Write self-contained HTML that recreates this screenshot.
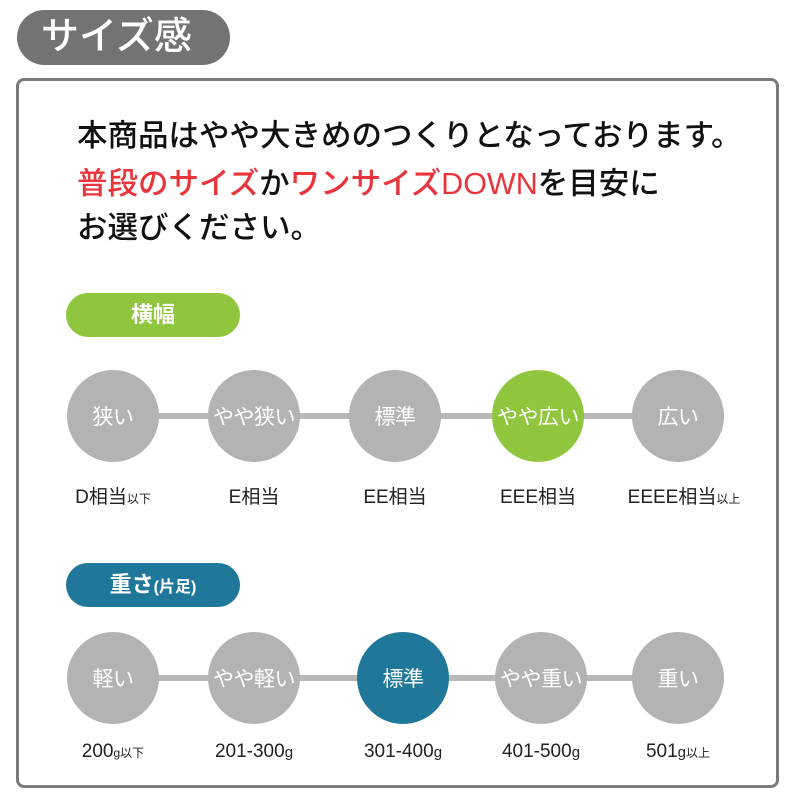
<!DOCTYPE html>
<html><head><meta charset="utf-8"><style>
body{margin:0;width:800px;height:800px;background:#fff;position:relative;overflow:hidden;font-family:"Liberation Sans","Noto Sans CJK JP",sans-serif}
.a{position:absolute}
.pill{position:absolute;border-radius:24px;color:#fff;text-align:center;font-weight:bold}
.c{position:absolute;width:92px;height:92px;border-radius:50%;background:#b3b3b2;color:#fff;font-size:21px;display:flex;align-items:center;justify-content:center;white-space:nowrap;letter-spacing:-0.5px}
.l{position:absolute;width:200px;text-align:center;font-size:19px;color:#222}
.l small{font-size:12px}
.line{position:absolute;height:6px;background:#b8b8b6}
.t{position:absolute;left:77px;font-size:30.5px;color:#111;font-weight:500;white-space:nowrap}
.r{color:#e8343b}
</style></head><body>
<div class="pill" style="left:17px;top:10px;width:213px;height:55px;border-radius:28px;background:#737373;font-size:38px;font-weight:500;line-height:55px;text-align:left;padding-left:24px;box-sizing:border-box">サイズ感</div>
<div class="a" style="left:16px;top:78px;width:757px;height:704px;border:3px solid #7a7a7a;border-radius:8px"></div>
<div class="t" style="top:111px">本商品はやや大きめのつくりとなっております。</div>
<div class="t" style="top:159px"><span class="r">普段のサイズ</span>か<span class="r">ワンサイズDOWN</span>を目安に</div>
<div class="t" style="top:203px">お選びください。</div>

<div class="pill" style="left:66px;top:293px;width:174px;height:44px;background:#8fc63d;font-size:22px;line-height:44px">横幅</div>
<div class="line" style="left:113px;top:413px;width:565px"></div>
<div class="c" style="left:67px;top:370px">狭い</div>
<div class="c" style="left:208px;top:370px">やや狭い</div>
<div class="c" style="left:349px;top:370px">標準</div>
<div class="c" style="left:492px;top:370px;background:#8fc63d">やや広い</div>
<div class="c" style="left:632px;top:370px">広い</div>
<div class="l" style="left:13px;top:482px">D相当<small>以下</small></div>
<div class="l" style="left:154px;top:482px">E相当</div>
<div class="l" style="left:295px;top:482px">EE相当</div>
<div class="l" style="left:438px;top:482px">EEE相当</div>
<div class="l" style="left:584px;top:482px">EEEE相当<small>以上</small></div>

<div class="pill" style="left:66px;top:563px;width:174px;height:44px;background:#1f7899;font-size:22px;line-height:44px">重さ<span style="font-size:16px">(片足)</span></div>
<div class="line" style="left:113px;top:675px;width:565px"></div>
<div class="c" style="left:67px;top:632px">軽い</div>
<div class="c" style="left:208px;top:632px">やや軽い</div>
<div class="c" style="left:357px;top:632px;background:#1f7899">標準</div>
<div class="c" style="left:495px;top:632px">やや重い</div>
<div class="c" style="left:632px;top:632px">重い</div>
<div class="l" style="left:13px;top:741px">200<small>g以下</small></div>
<div class="l" style="left:154px;top:741px">201-300<small style="font-size:15px">g</small></div>
<div class="l" style="left:303px;top:741px">301-400<small style="font-size:15px">g</small></div>
<div class="l" style="left:441px;top:741px">401-500<small style="font-size:15px">g</small></div>
<div class="l" style="left:578px;top:741px">501<small style="font-size:15px">g</small><small>以上</small></div>
</body></html>
